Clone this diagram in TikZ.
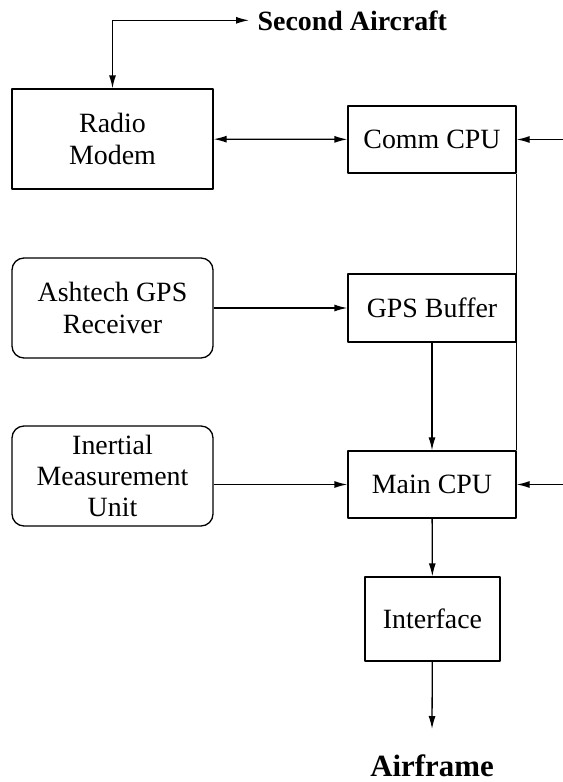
\documentclass[tikz,border=0pt]{standalone}
\usepackage{fontspec}
\setmainfont{Liberation Serif}
\usetikzlibrary{arrows.meta}
\begin{document}
\begin{tikzpicture}[>={Latex[length=13bp,width=7bp]},line join=bevel,line width=1.3bp,
  every node/.style={font=\fontsize{28}{31.5}\selectfont,align=center,inner sep=0pt},
  unitbox/.style={draw,minimum width=201bp,minimum height=100bp},
  sensorbox/.style={unitbox,rounded corners=12bp},
  cpubox/.style={draw,minimum width=168bp,minimum height=67bp},
  ]
\useasboundingbox (0bp,0bp) rectangle (563bp,-782bp);
%%
\node (radio_modem) at (112.5bp,-139bp) [unitbox] {Radio\\Modem};
  \node (gps_receiver) at (112.5bp,-308bp) [sensorbox] {Ashtech GPS\\Receiver};
  \node (imu) at (112.5bp,-476bp) [sensorbox] {Inertial\\Measurement\\Unit};
  \node (comm_cpu) at (432bp,-139.5bp) [cpubox] {Comm CPU};
  \node (gps_buffer) at (432bp,-308bp) [cpubox,minimum height=68bp] {GPS Buffer};
  \node (main_cpu) at (432bp,-484.5bp) [cpubox] {Main CPU};
  \node (interface) at (432.5bp,-619bp) [draw,minimum width=135bp,minimum height=84bp] {Interface};
  \node (second_aircraft) at (249bp,-30bp) [anchor=base west,inner xsep=8bp,font=\fontsize{28}{31.5}\selectfont\bfseries] {Second Aircraft};
  \node (airframe) at (432bp,-776bp) [anchor=base,font=\fontsize{31}{36}\selectfont\bfseries] {Airframe};
  \coordinate (comm_in) at (563bp,-139.5bp);
  \coordinate (main_in) at (563bp,-484.5bp);
  \coordinate (airframe_tip) at (432bp,-729bp);
  \draw [black,<->] (radio_modem.north) |- (second_aircraft.west);
  \draw [black,<->] (radio_modem) -- (comm_cpu);
  \draw [black,->] (comm_in) -- (comm_cpu);
  \draw [black] (comm_cpu.south east) -- (main_cpu.north east);
  \draw [black,->] (gps_receiver) -- (gps_buffer);
  \draw [black,->] (gps_buffer) -- (main_cpu);
  \draw [black,->] (imu.east |- main_cpu) -- (main_cpu);
  \draw [black,->] (main_in) -- (main_cpu);
  \draw [black,->] (main_cpu) -- (interface);
  \draw [black,->] (interface) -- (airframe_tip);
%
\end{tikzpicture}
\end{document}
